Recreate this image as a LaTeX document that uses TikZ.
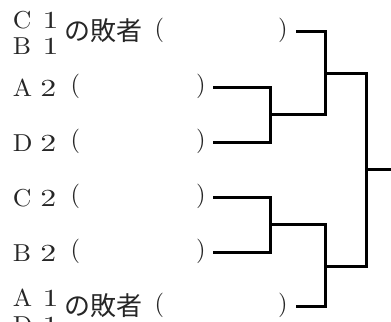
\documentclass[tikz,border=0pt]{standalone}
\usepackage{fontspec}
\usepackage{graphicx}
\setmainfont{lmroman10-regular.otf}
\newfontfamily\cjk{Noto Sans CJK JP}
\newcommand\wl[1]{\scalebox{1.05}[1]{#1}}
\newcommand\wdg[1]{\scalebox{1.3}[1]{#1}}
\newcommand\rp[1]{\raisebox{3.9bp}{#1}}
\tikzset{
  lbl/.style={anchor=base west, inner sep=0pt, outer sep=0pt, text=black!85, font=\fontsize{24.5bp}{24.5bp}\selectfont},
  jp/.style={anchor=base west, inner sep=0pt, outer sep=0pt, text=black!85, font=\fontsize{26bp}{26bp}\selectfont\cjk},
  br/.style={line width=3.2bp, line join=miter, line cap=rect, black}
}
\begin{document}
\begin{tikzpicture}[x=1bp,y=-1bp]
\useasboundingbox (0,0) rectangle (391,322);
% top row
\node[lbl] (c1) at (13,28) {\makebox[29.5bp][l]{\wl{C}}\wdg{1}};
\node[lbl] (b1) at (13,54.7) {\makebox[29.5bp][l]{\wl{B}}\wdg{1}};
\node[jp] (t1) at (64,40) {の敗者};
\node[lbl] (op1) at (154.6,36.5) {(};
\node[lbl] (cp1) at (278,36.5) {)};
% middle rows
\node[lbl] (a2) at (13,96) {\makebox[27.4bp][l]{\wl{A}}\makebox[30.2bp][l]{\wdg{2}}\rp{(}};
\node[lbl] (cpa2) at (196,92.1) {)};
\node[lbl] (d2) at (13,151) {\makebox[27.4bp][l]{\wl{D}}\makebox[30.2bp][l]{\wdg{2}}\rp{(}};
\node[lbl] (cpd2) at (196,147.1) {)};
\node[lbl] (c2) at (13,206) {\makebox[27.4bp][l]{\wl{C}}\makebox[30.2bp][l]{\wdg{2}}\rp{(}};
\node[lbl] (cpc2) at (196,202.1) {)};
\node[lbl] (bb2) at (13,261) {\makebox[27.4bp][l]{\wl{B}}\makebox[30.2bp][l]{\wdg{2}}\rp{(}};
\node[lbl] (cpb2) at (196,257.1) {)};
% bottom row
\node[lbl] (a1) at (13,306.7) {\makebox[29.5bp][l]{\wl{A}}\wdg{1}};
\node[lbl] (d1) at (13,333.4) {\makebox[29.5bp][l]{\wl{D}}\wdg{1}};
\node[jp] (t2) at (64,315) {の敗者};
\node[lbl] (op2) at (154.6,311.5) {(};
\node[lbl] (cp2) at (278,311.5) {)};
% bracket coordinates
\coordinate (sC1) at (298,31.7);
\coordinate (sA2) at (215,87.3);
\coordinate (sD2) at (215,142.3);
\coordinate (sC2) at (215,197.3);
\coordinate (sB2) at (215,252.3);
\coordinate (sA1) at (298,306.7);
\coordinate (jAD) at (270.7,114.8);
\coordinate (jCB) at (270.7,224.8);
\coordinate (jT) at (325.7,73.3);
\coordinate (jB) at (325.7,266.2);
\coordinate (jF) at (366.7,169.7);
\coordinate (out) at (391,169.7);
\draw[br] (sA2) -| (jAD) |- (sD2);
\draw[br] (sC2) -| (jCB) |- (sB2);
\draw[br] (jAD) -| (jT) |- (sC1);
\draw[br] (jCB) -| (jB) |- (sA1);
\draw[br] (jT) -| (jF) |- (jB);
\draw[br] (jF) -- (out);
\end{tikzpicture}
\end{document}
